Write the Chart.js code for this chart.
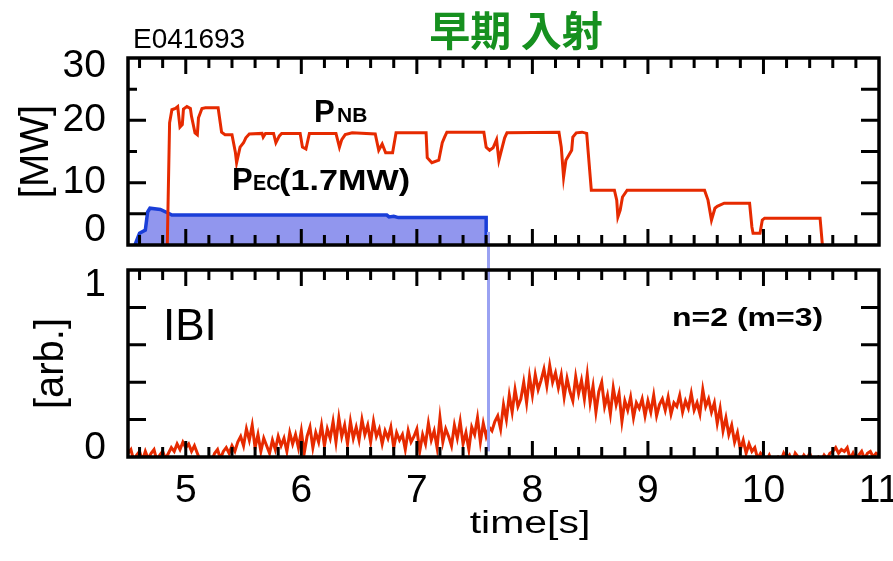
<!DOCTYPE html>
<html>
<head>
<meta charset="utf-8">
<title>E041693</title>
<script src="https://cdn.jsdelivr.net/npm/chart.js@4/dist/chart.umd.min.js"></script>
<style>
    html, body { margin: 0; padding: 0; background: #ffffff; }
    #wrap { width: 893px; height: 561px; }
</style>
</head>
<body>
<div id="wrap"><canvas id="shotChart" width="893" height="561"></canvas></div>
<script>
// Shot E041693: NB / EC heating power and n=2 mode amplitude vs time

// NB injection power [MW]
const nbTime = [4.84, 4.86, 4.88, 4.91, 4.93, 4.95, 4.97, 4.98, 5.01, 5.04, 5.05, 5.08, 5.10, 5.11, 5.14, 5.17,
    5.28, 5.31, 5.34, 5.40, 5.43, 5.44, 5.47, 5.50, 5.52, 5.55, 5.66, 5.67, 5.69, 5.76, 5.78, 5.81, 5.83,
    5.99, 6.01, 6.04, 6.07, 6.30, 6.33, 6.35, 6.38, 6.44, 6.64, 6.67, 6.70, 6.73, 6.79, 6.82,
    7.08, 7.09, 7.13, 7.19, 7.22, 7.24, 7.26, 7.58, 7.60, 7.63, 7.66, 7.69, 7.71, 7.76, 7.78,
    8.23, 8.25, 8.27, 8.29, 8.34, 8.35, 8.38, 8.43, 8.47, 8.48, 8.51, 8.71, 8.73, 8.74, 8.76, 8.78, 8.82,
    9.49, 9.52, 9.55, 9.58, 9.60, 9.66, 9.88, 9.90, 9.91, 9.97, 9.99, 10.01, 10.49, 10.51];
const nbPower = [0, 19.6, 21.7, 21.9, 22.2, 18.9, 19.3, 21.8, 22.2, 21.9, 20.6, 18.0, 17.7, 20.4, 21.9, 22.0,
    22.0, 18.1, 17.7, 17.7, 14.8, 13.2, 15.7, 16.4, 17.2, 17.8, 17.9, 17.3, 17.9, 17.9, 16.4, 17.5, 17.9,
    17.9, 15.7, 15.4, 17.9, 17.9, 15.7, 16.9, 17.7, 18.0, 17.8, 15.2, 16.2, 14.8, 14.8, 18.0,
    18.0, 14.0, 13.2, 13.6, 16.4, 17.3, 18.1, 18.1, 15.7, 15.2, 15.6, 16.9, 13.6, 17.2, 18.0,
    18.1, 15.7, 10.9, 13.6, 15.2, 17.3, 18.0, 18.1, 17.9, 15.6, 8.8, 8.8, 7.2, 4.5, 5.6, 7.7, 8.8,
    8.8, 7.2, 4.0, 5.9, 6.2, 6.7, 6.7, 2.9, 1.9, 1.9, 4.0, 4.3, 4.3, 0];

// EC power, plotted on the MW axis
const ecTime = [4.56, 4.60, 4.65, 4.67, 4.69, 4.78, 4.85, 4.88, 6.74, 6.76, 6.80, 6.84, 7.60, 7.60];
const ecPower = [0, 1.9, 2.4, 5.3, 5.9, 5.7, 5.1, 4.8, 4.8, 4.5, 4.6, 4.4, 4.4, 0];

// EC turn-off marker, runs from the power panel into the |B| panel
const ecOffTime = 7.62;
const ecOffPower = 2.1;
const ecOffAmp = 0.03;

// n=2 (m=3) amplitude [arb.], one sample every 25 ms from 4.5 s
const modeStart = 4.5;
const modeStep = 0.025;
const modeAmp = [
    0.02, 0.04, -0.02, 0.01, 0.03, -0.02, 0.03, -0.01, 0.02, 0.04, -0.02, 0.01, 0.03, -0.01, 0.02, 0.05, 0.03, 0.07, 0.04, 0.08,
    0.05, 0.07, 0.03, 0.06, 0.02, -0.02, -0.03, -0.01, -0.03, -0.02, 0.02, 0.04, -0.01, 0.03, 0.05, 0.02, 0.06, 0.03, 0.08, 0.11,
    0.06, 0.15, 0.09, 0.17, 0.05, 0.12, 0.03, 0.10, 0.06, 0.02, 0.09, 0.04, 0.11, 0.06, 0.10, 0.03, 0.13, 0.07, 0.12, 0.05,
    0.14, 0.02, 0.11, 0.16, 0.05, 0.13, 0.08, 0.17, 0.06, 0.15, 0.10, 0.19, 0.08, 0.21, 0.11, 0.17, 0.07, 0.19, 0.10, 0.16,
    0.09, 0.20, 0.12, 0.17, 0.08, 0.19, 0.11, 0.15, 0.07, 0.14, 0.10, 0.16, 0.05, 0.13, 0.09, 0.12, 0.04, 0.14, 0.08, 0.11,
    0.15, 0.03, 0.12, 0.07, 0.18, 0.09, 0.14, 0.05, 0.21, 0.08, 0.15, 0.11, 0.06, 0.17, 0.10, 0.19, 0.07, 0.13, 0.04, 0.16,
    0.12, 0.21, 0.08, 0.18, 0.11, 0.16, 0.14, 0.19, 0.22, 0.15, 0.28, 0.20, 0.33, 0.24, 0.36, 0.27, 0.31, 0.40, 0.29, 0.43,
    0.33, 0.44, 0.36, 0.41, 0.47, 0.38, 0.49, 0.40, 0.45, 0.37, 0.44, 0.32, 0.42, 0.35, 0.30, 0.43, 0.34, 0.41, 0.31, 0.44,
    0.29, 0.38, 0.24, 0.35, 0.40, 0.27, 0.33, 0.23, 0.37, 0.28, 0.34, 0.19, 0.30, 0.25, 0.32, 0.21, 0.29, 0.26, 0.31, 0.22,
    0.30, 0.24, 0.33, 0.22, 0.28, 0.31, 0.25, 0.32, 0.23, 0.29, 0.27, 0.33, 0.24, 0.30, 0.26, 0.34, 0.25, 0.29, 0.23, 0.36,
    0.27, 0.31, 0.24, 0.29, 0.18, 0.26, 0.14, 0.21, 0.12, 0.17, 0.08, 0.13, 0.04, 0.09, 0.02, 0.07, 0.03, 0.05, -0.01, 0.02,
    0.00, -0.02, 0.01, -0.03, -0.01, 0.00, -0.02, 0.02, -0.01, 0.01, -0.03, 0.02, 0.00, -0.02, 0.01, -0.01, 0.02, -0.02, -0.01, 0.00,
    -0.02, 0.01, -0.01, 0.02, 0.03, 0.05, 0.02, 0.04, 0.03, 0.05, -0.01, 0.02, -0.02, 0.01, 0.03, -0.01, 0.02, 0.03, 0.00, 0.02,
    0.01
];

// Axis ticks
const timeTicks = [5, 6, 7, 8, 9, 10, 11];
const powerTicks = [0, 10, 20, 30];
const ampTicks = [0, 1];

const SANS = "'Liberation Sans', Arial, Helvetica, sans-serif";
const CJK = "'Noto Sans CJK JP', 'Noto Sans CJK SC', sans-serif";
const RED = '#e62a00';
const BLUE = '#1a3ed8';

// end labels sit a little inside the frame
const labelNudge = {
    yTop: { 30: 8, 0: -15 },
    yBot: { 1: 15, 0: -9 }
};

function pairs(xs, ys) {
    return xs.map((x, i) => ({ x: x, y: ys[i] }));
}

function fixWidth(scale) {
    scale.width = 128;
    scale.paddingTop = 0;
    scale.paddingBottom = 0;
}

// Y axis with a few hand-picked ticks; end labels are pushed inward
function valueAxis(id, min, max, ticks, weight, title, titlePad) {
    return {
        type: 'linear',
        position: 'left',
        stack: 'panels',
        stackWeight: weight,
        min: min,
        max: max,
        grid: { display: false },
        border: { display: false },
        afterBuildTicks: (scale) => { scale.ticks = ticks.map(v => ({ value: v })); },
        afterFit: fixWidth,
        ticks: {
            color: '#000',
            padding: 14,
            autoSkip: false,
            font: (ctx) => {
                const n = ctx.tick ? labelNudge[id][ctx.tick.value] : undefined;
                return { family: SANS, size: 39, lineHeight: n ? Math.abs(n) * 2 + 'px' : 1.2 };
            },
            callback: (v) => {
                const n = labelNudge[id][v];
                if (!n) return String(v);
                return n > 0 ? ['', String(v)] : [String(v), ''];
            }
        },
        title: {
            display: true,
            text: title,
            color: '#000',
            font: { family: SANS, size: 40 },
            padding: { top: titlePad, bottom: 0 }
        }
    };
}

// Inward tick marks and panel frames
const panels = [
    {
        id: 'yTop',
        left: [[5, 18], [10, 18], [15, 9], [20, 18], [25, 9]],
        right: [[5, 18], [10, 18], [15, 18], [20, 18], [25, 18]]
    },
    {
        id: 'yBot',
        left: [[0.2, 18], [0.4, 18], [0.6, 18], [0.8, 18]],
        right: [[0.2, 18], [0.4, 18], [0.6, 18], [0.8, 18]]
    }
];

const panelFrames = {
    id: 'panelFrames',
    afterDatasetsDraw(chart) {
        const ctx = chart.ctx;
        const xs = chart.scales.x;
        const top = chart.scales.yTop;
        const bot = chart.scales.yBot;

        ctx.save();
        // EC switch-off line
        const ex = xs.getPixelForValue(ecOffTime);
        ctx.strokeStyle = '#9aa2f2';
        ctx.lineWidth = 3;
        ctx.beginPath();
        ctx.moveTo(ex, top.getPixelForValue(ecOffPower));
        ctx.lineTo(ex, bot.getPixelForValue(ecOffAmp));
        ctx.stroke();

        ctx.strokeStyle = '#000';
        for (const p of panels) {
            const ys = chart.scales[p.id];
            ctx.lineWidth = 3;
            ctx.beginPath();
            // every 0.2 s, long at whole seconds
            for (let k = 23; k <= 54; k++) {
                const px = xs.getPixelForValue(k / 5);
                const len = k % 5 === 0 ? 16 : 10;
                ctx.moveTo(px, ys.bottom);
                ctx.lineTo(px, ys.bottom - len);
                ctx.moveTo(px, ys.top);
                ctx.lineTo(px, ys.top + len);
            }
            for (const [v, len] of p.left) {
                const py = ys.getPixelForValue(v);
                ctx.moveTo(xs.left, py);
                ctx.lineTo(xs.left + len, py);
            }
            for (const [v, len] of p.right) {
                const py = ys.getPixelForValue(v);
                ctx.moveTo(xs.right, py);
                ctx.lineTo(xs.right - len, py);
            }
            ctx.stroke();
            ctx.lineWidth = 3.5;
            ctx.strokeRect(xs.left, ys.top, xs.right - xs.left, ys.bottom - ys.top);
        }
        ctx.restore();
    }
};

// Free text on the figure
const notes = [
    { text: '早期 入射', x: 516, y: 30, font: `bold 41px ${CJK}`, color: '#16901f', align: 'center', base: 'middle' },
    { text: 'E041693', x: 133, y: 48, font: `28px ${SANS}` },
    { text: 'P', x: 314, y: 122, font: `bold 31px ${SANS}` },
    { text: 'NB', x: 337, y: 122, font: `bold 21px ${SANS}` },
    { text: 'P', x: 232, y: 190, font: `bold 31px ${SANS}` },
    { text: 'EC', x: 253, y: 190, font: `bold 22px ${SANS}`, sx: 0.9 },
    { text: '(1.7MW)', x: 279, y: 190, font: `bold 30px ${SANS}`, sx: 1.14 },
    { text: 'IBI', x: 163, y: 340, font: `44px ${SANS}` },
    { text: 'n=2 (m=3)', x: 672, y: 326, font: `bold 25px ${SANS}`, sx: 1.28 },
    { text: 'time[s]', x: 530, y: 533, font: `31px ${SANS}`, sx: 1.32, align: 'center' }
];

const figureNotes = {
    id: 'figureNotes',
    afterDraw(chart) {
        const ctx = chart.ctx;
        for (const n of notes) {
            ctx.save();
            ctx.translate(n.x, n.y);
            ctx.scale(n.sx || 1, 1);
            ctx.font = n.font;
            ctx.fillStyle = n.color || '#000';
            ctx.textAlign = n.align || 'left';
            ctx.textBaseline = n.base || 'alphabetic';
            ctx.fillText(n.text, 0, 0);
            ctx.restore();
        }
    }
};

const chart = new Chart(document.getElementById('shotChart'), {
    type: 'line',
    data: {
        datasets: [
            {
                label: 'P_NB',
                data: pairs(nbTime, nbPower),
                yAxisID: 'yTop',
                borderColor: RED,
                borderWidth: 3,
                pointRadius: 0,
                fill: false
            },
            {
                label: 'P_EC',
                data: pairs(ecTime, ecPower),
                yAxisID: 'yTop',
                borderColor: BLUE,
                backgroundColor: '#9196ee',
                borderWidth: 3.5,
                pointRadius: 0,
                fill: 'origin'
            },
            {
                label: '|B| n=2',
                data: modeAmp.map((v, i) => ({ x: modeStart + i * modeStep, y: v })),
                yAxisID: 'yBot',
                borderColor: RED,
                borderWidth: 3,
                pointRadius: 0,
                fill: false
            }
        ]
    },
    options: {
        responsive: false,
        animation: false,
        devicePixelRatio: 1,
        layout: { padding: { top: 58, right: 14, bottom: 0, left: 0 } },
        plugins: {
            legend: { display: false },
            tooltip: { enabled: false }
        },
        scales: {
            x: {
                type: 'linear',
                position: 'bottom',
                min: 4.5,
                max: 11,
                grid: { display: false },
                border: { display: false },
                afterBuildTicks: (scale) => { scale.ticks = timeTicks.map(v => ({ value: v })); },
                afterFit: (scale) => {
                    scale.height = 104;
                    scale.paddingLeft = 0;
                    scale.paddingRight = 0;
                },
                ticks: {
                    color: '#000',
                    padding: 3,
                    autoSkip: false,
                    maxRotation: 0,
                    font: { family: SANS, size: 39 },
                    callback: (v) => String(v)
                }
            },
            // stacked axes are laid out bottom-up in definition order
            yBot: valueAxis('yBot', 0, 1, ampTicks, 187, '[arb.]', 28),
            yGap: {
                type: 'linear',
                position: 'left',
                stack: 'panels',
                stackWeight: 25,
                min: 0,
                max: 1,
                grid: { display: false },
                border: { display: false },
                ticks: { display: false },
                afterFit: fixWidth
            },
            yTop: valueAxis('yTop', 0, 30, powerTicks, 187, '[MW]', 13)
        }
    },
    plugins: [panelFrames, figureNotes]
});
</script>
</body>
</html>
